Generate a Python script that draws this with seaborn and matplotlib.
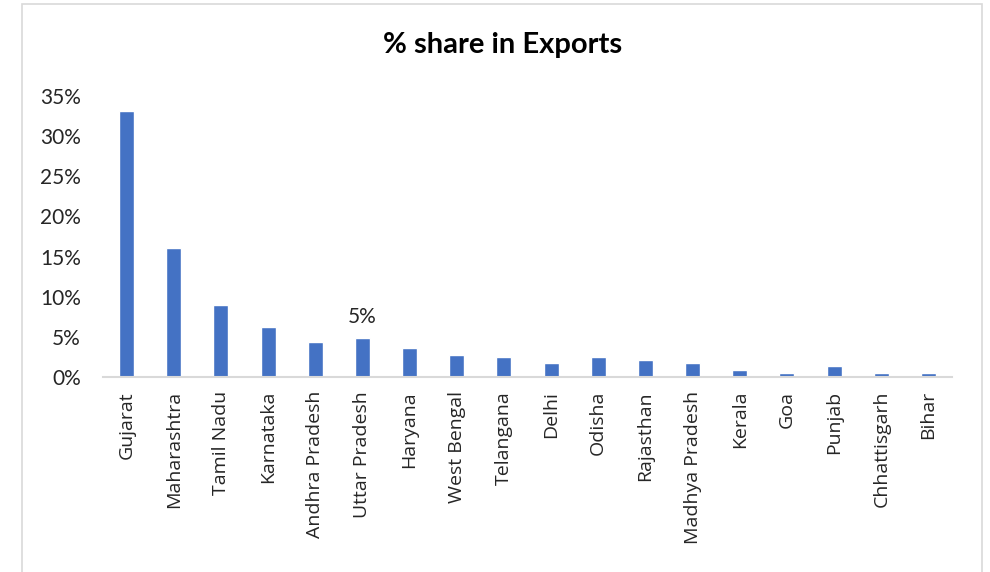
import matplotlib
matplotlib.use("Agg")
import matplotlib.pyplot as plt
from matplotlib.patches import Rectangle
from matplotlib.ticker import FuncFormatter
import seaborn as sns
import pandas as pd

states = ["Gujarat", "Maharashtra", "Tamil Nadu", "Karnataka", "Andhra Pradesh",
          "Uttar Pradesh", "Haryana", "West Bengal", "Telangana", "Delhi", "Odisha",
          "Rajasthan", "Madhya Pradesh", "Kerala", "Goa", "Punjab", "Chhattisgarh", "Bihar"]
share = [33.1, 16.1, 9.0, 6.2, 4.4, 4.8, 3.6, 2.8, 2.5, 1.8, 2.5, 2.1, 1.8, 0.9, 0.5, 1.4, 0.5, 0.5]
labelled = ["Uttar Pradesh"]
y_ticks = [0, 5, 10, 15, 20, 25, 30, 35]

df = pd.DataFrame({"state": states, "share": share})

sns.set_style("white")
plt.rcParams["font.family"] = ["Lato", "DejaVu Sans"]

W, H = 990, 572
fig = plt.figure(figsize=(W / 100, H / 100), dpi=100)
ax = fig.add_axes([103 / W, 1 - 377 / H, (952 - 103) / W, (377 - 96) / H])

sns.barplot(data=df, x="state", y="share", color="#4472C4", width=0.32,
            saturation=1, ax=ax)

ax.set_ylim(0, 35)
ax.set_yticks(y_ticks)
ax.yaxis.set_major_formatter(FuncFormatter(lambda v, _: f"{v:.0f}%"))
ax.set_xlim(-0.5, len(states) - 0.5)
ax.set_xlabel("")
ax.set_ylabel("")
ax.tick_params(axis="y", length=0, labelsize=15, colors="#262626", pad=16)
ax.tick_params(axis="x", length=0, labelsize=14, colors="#262626", pad=10,
               labelrotation=90)
for lab in ax.get_xticklabels():
    lab.set_fontfamily(["Open Sans", "DejaVu Sans"])

for s in ["left", "right", "top"]:
    ax.spines[s].set_visible(False)
ax.spines["bottom"].set_color("#D9D9D9")
ax.spines["bottom"].set_linewidth(1.5)

for i, (st, v) in enumerate(zip(states, share)):
    if st in labelled:
        ax.annotate(f"{round(v)}%", (i, v), xytext=(0, 8), textcoords="offset points",
                    ha="center", va="bottom", fontsize=15, color="#262626")

fig.text(503 / W, 1 - 45 / H, "% share in Exports", ha="center", va="center",
         fontsize=21, fontweight="bold", color="#000000")

fig.patches.append(Rectangle((22 / W, -0.05), (982 - 22) / W, 1 - 4 / H + 0.05,
                             transform=fig.transFigure, fill=False,
                             edgecolor="#D9D9D9", linewidth=1.2))

fig.savefig("out.png", dpi=100)
